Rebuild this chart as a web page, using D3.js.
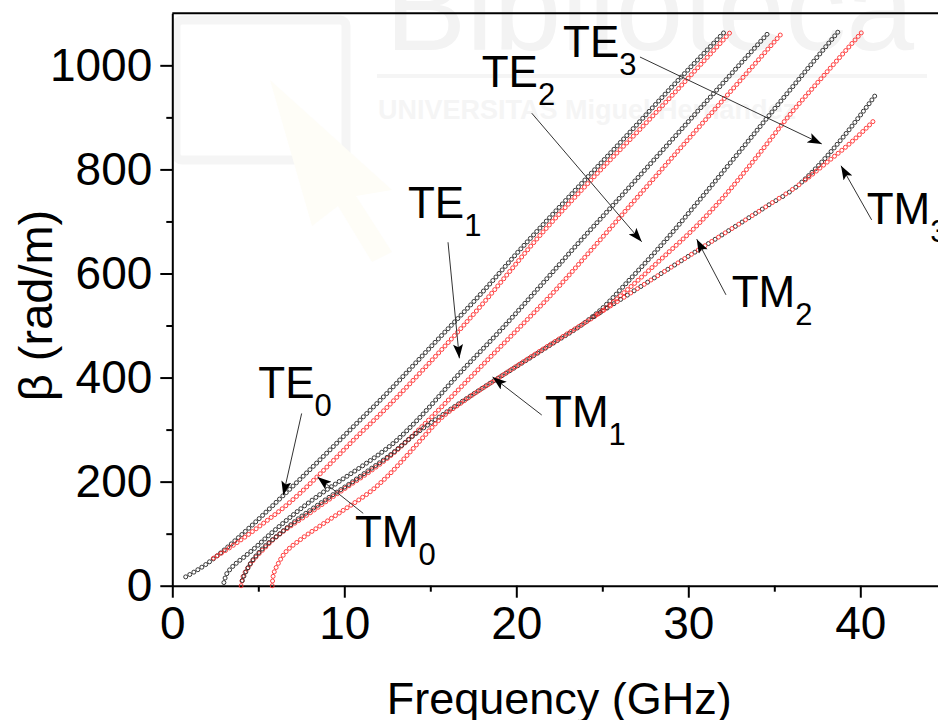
<!DOCTYPE html>
<html>
<head>
<meta charset="utf-8">
<script src="https://cdn.jsdelivr.net/npm/d3@7"></script>
<style>
  body { margin: 0; background: #fff; }
  text { font-family: Arial, "Liberation Sans", sans-serif; }
</style>
</head>
<body>
<svg id="chart" width="938" height="720"></svg>
<script>
// dispersion curves: [frequency GHz, beta rad/m]
var te0 = [[0.78,17],[2.0,42],[3.1,71],[4.5,112],[6.47,174],[8.4,236],[10.66,310],[12.1,357],[15,458],[18,563],[20.2,645],[23,745],[26,850],[29,957],[32.1,1064]];
var tm0 = [[2.4,53],[3.2,70],[4.2,93],[5.3,120],[6.47,150],[7.5,180],[8.41,209],[9.5,245],[10.66,284],[12.1,330],[15,430],[18,540],[21.4,674],[24.5,785],[28,905],[32.4,1062]];
var te1 = [[3.0,6],[3.1,18],[3.3,29],[3.68,42],[4.17,55],[4.75,71],[5.62,97],[6.4,119],[7.36,145],[8.53,174],[9.69,200],[11.4,238],[12.0,252],[13.0,278],[14.0,310],[16.7,408],[19,488],[21.4,576],[23.3,647],[26,745],[29,855],[31.5,947],[34.7,1064]];
var tm1 = [[4.0,0],[4.1,16],[4.3,29],[4.55,42],[4.94,58],[5.33,71],[5.81,87],[6.4,103],[7.07,119],[7.75,134],[8.53,152],[9.3,170],[10.27,192],[11.43,218],[12.7,250],[13.8,283],[14.8,315],[16.5,372],[18.6,443],[20.3,500],[22,558],[24.3,643],[27,745],[30,858],[32.25,942],[35.5,1064]];
var te2 = [[4.07,10],[4.17,19],[4.36,32],[4.65,48],[5.04,64],[5.52,80],[6.0,93],[6.69,112],[7.46,132],[8.33,152],[9.3,174],[10.27,195],[11.43,222],[12.7,252],[14,288],[16,335],[18,379],[20,421],[22,463],[24,506],[24.9,530],[26.5,585],[28.5,657],[30.7,743],[33,835],[35.35,930],[38.7,1064]];
var tm2 = [[5.81,0],[5.85,16],[6.0,32],[6.2,45],[6.5,61],[6.78,71],[7.27,84],[7.75,96],[8.33,109],[8.91,122],[9.5,135],[10.08,148],[10.85,165],[11.6,183],[12.5,210],[13.5,245],[14.5,282],[15.5,318],[17,356],[19,400],[21,443],[23,485],[25,528],[26.5,570],[28.5,630],[30.5,692],[32,745],[34,825],[35.9,905],[38,985],[40.1,1064]];
var te3 = [[24.5,517],[28,591],[32,675],[34.5,728],[36.3,767],[37.5,805],[39,862],[41,948]];
var tm3 = [[24.5,517],[28,591],[32,675],[34.5,728],[36.5,772],[38,812],[39.5,853],[40.8,894]];

// ring spacing in px; on the shared light-line stretch the scan shows sparser rings
var series = [
  { name: "TE0", pts: te0, color: "#222" },
  { name: "TM0", pts: tm0, color: "#ff2a2a" },
  { name: "TE1", pts: te1, color: "#222" },
  { name: "TM1", pts: tm1, color: "#ff2a2a" },
  { name: "TE2", pts: te2, color: "#222" },
  { name: "TM2", pts: tm2, color: "#ff2a2a" },
  { name: "TE3", pts: te3, color: "#222", sparseTo: 36.3, phase: 0 },
  { name: "TM3", pts: tm3, color: "#ff2a2a", sparseTo: 36.5, phase: 4 }
];

var freqTicks = [0, 10, 20, 30, 40];
var freqMinor = [5, 15, 25, 35, 45];
var betaTicks = [0, 200, 400, 600, 800, 1000];
var betaMinor = [100, 300, 500, 700, 900];

// mode labels: text anchor and arrow (from -> tip), in data units
var notes = [
  { mode: "TE", sub: "0", at: [5.0, 360], from: [7.52, 331], to: [6.45, 174] },
  { mode: "TM", sub: "0", at: [10.62, 75], from: [11.10, 139], to: [8.44, 209] },
  { mode: "TE", sub: "1", at: [13.70, 707], from: [16.03, 660], to: [16.69, 437] },
  { mode: "TM", sub: "1", at: [21.67, 305], from: [21.48, 328], to: [18.62, 401] },
  { mode: "TE", sub: "2", at: [17.99, 959], from: [20.9, 908], to: [27.29, 661] },
  { mode: "TM", sub: "2", at: [32.52, 536], from: [32.19, 559], to: [30.49, 666] },
  { mode: "TE", sub: "3", at: [22.72, 1016], from: [27.19, 1016], to: [37.76, 849] },
  { mode: "TM", sub: "3", at: [40.37, 696], from: [40.66, 703], to: [38.88, 807] }
];

var svg = d3.select("#chart");

var x = d3.scaleLinear().domain([0, 45]).range([172.3, 946.3]),
    y = d3.scaleLinear().domain([0, 1100]).range([585.7, 13.3]);

// faint watermark of the source scan
var wm = svg.append("g");
wm.append("rect").attr("x", 176).attr("y", 20).attr("width", 170).attr("height", 140)
  .attr("rx", 6).attr("fill", "none").attr("stroke", "#f5f5f5").attr("stroke-width", 9);
wm.append("path").attr("d", "M270,80 L392,190 L356,196 L392,252 L372,262 L338,206 L312,226 Z")
  .attr("fill", "#fefdf7");
wm.append("text").attr("x", 385).attr("y", 50).attr("font-size", 122).attr("fill", "#f3f3f3").text("Biblioteca");
wm.append("rect").attr("x", 377).attr("y", 74).attr("width", 550).attr("height", 4).attr("fill", "#f5f5f5");
wm.append("text").attr("x", 378).attr("y", 119).attr("font-size", 27).attr("font-weight", "bold")
  .attr("fill", "#f5f5f5").text("UNIVERSITAS Miguel Hernández");

// axes
var gx = svg.append("g").attr("transform", "translate(0," + y(0) + ")");
gx.call(d3.axisBottom(x).tickValues(freqTicks).tickSize(12).tickPadding(9).tickSizeOuter(0));
gx.append("g").call(d3.axisBottom(x).tickValues(freqMinor).tickSize(6).tickFormat("").tickSizeOuter(0))
  .select(".domain").remove();

var gy = svg.append("g").attr("transform", "translate(" + x(0) + ",0)");
gy.call(d3.axisLeft(y).tickValues(betaTicks).tickFormat(d3.format("d")).tickSize(12).tickPadding(8).tickSizeOuter(0));
gy.append("g").call(d3.axisLeft(y).tickValues(betaMinor).tickSize(6).tickFormat("").tickSizeOuter(0))
  .select(".domain").remove();

svg.selectAll(".domain").attr("stroke", "#000").attr("stroke-width", 2);
svg.selectAll(".tick line").attr("stroke", "#000").attr("stroke-width", 2);
svg.selectAll(".tick text").attr("font-size", 46).attr("fill", "#000")
  .attr("font-family", "Arial, 'Liberation Sans', sans-serif");

svg.append("line").attr("x1", x(0)).attr("x2", 938).attr("y1", y(1100)).attr("y2", y(1100))
  .attr("stroke", "#000").attr("stroke-width", 2);

svg.append("text").attr("x", (x(0) + x(45)) / 2).attr("y", 714).attr("text-anchor", "middle")
  .attr("font-size", 45).text("Frequency (GHz)");
svg.append("text").attr("transform", "translate(52," + ((y(0) + y(1100)) / 2 + 6) + ") rotate(-90)")
  .attr("text-anchor", "middle").attr("font-size", 47).text("β (rad/m)");

// curves: drawn as a string of small open rings along each line
var line = d3.line().x(function (d) { return x(d[0]); }).y(function (d) { return y(d[1]); })
  .curve(d3.curveMonotoneX);

series.forEach(function (s) {
  var g = svg.append("g").attr("class", "mode " + s.name);
  var p = g.append("path").attr("d", line(s.pts)).attr("fill", "none").attr("stroke", "none");
  var node = p.node(), len = node.getTotalLength(), rings = [];
  var l = s.phase || 0;
  while (l <= len) {
    var pt = node.getPointAtLength(l);
    rings.push(pt);
    l += (s.sparseTo && pt.x < x(s.sparseTo)) ? 8 : 4.7;
  }
  g.selectAll("circle").data(rings).join("circle")
    .attr("cx", function (d) { return d.x; }).attr("cy", function (d) { return d.y; })
    .attr("r", 2).attr("fill", "none").attr("stroke", s.color).attr("stroke-width", 0.9);
});

// annotations
svg.append("defs").append("marker").attr("id", "head").attr("viewBox", "0 0 14 10")
  .attr("refX", 14).attr("refY", 5).attr("markerWidth", 15).attr("markerHeight", 10)
  .attr("markerUnits", "userSpaceOnUse").attr("orient", "auto")
  .append("path").attr("d", "M0,0 L14,5 L0,10 L3,5 Z").attr("fill", "#000");

var ann = svg.append("g");
ann.selectAll("line").data(notes).join("line")
  .attr("x1", function (d) { return x(d.from[0]); }).attr("y1", function (d) { return y(d.from[1]); })
  .attr("x2", function (d) { return x(d.to[0]); }).attr("y2", function (d) { return y(d.to[1]); })
  .attr("stroke", "#333").attr("stroke-width", 1).attr("marker-end", "url(#head)");

var lab = ann.selectAll("text").data(notes).join("text")
  .attr("x", function (d) { return x(d.at[0]); }).attr("y", function (d) { return y(d.at[1]); })
  .attr("font-size", 44).attr("fill", "#000");
lab.append("tspan").text(function (d) { return d.mode; });
lab.append("tspan").attr("font-size", 31).attr("dy", 18).text(function (d) { return d.sub; });
</script>
</body>
</html>
